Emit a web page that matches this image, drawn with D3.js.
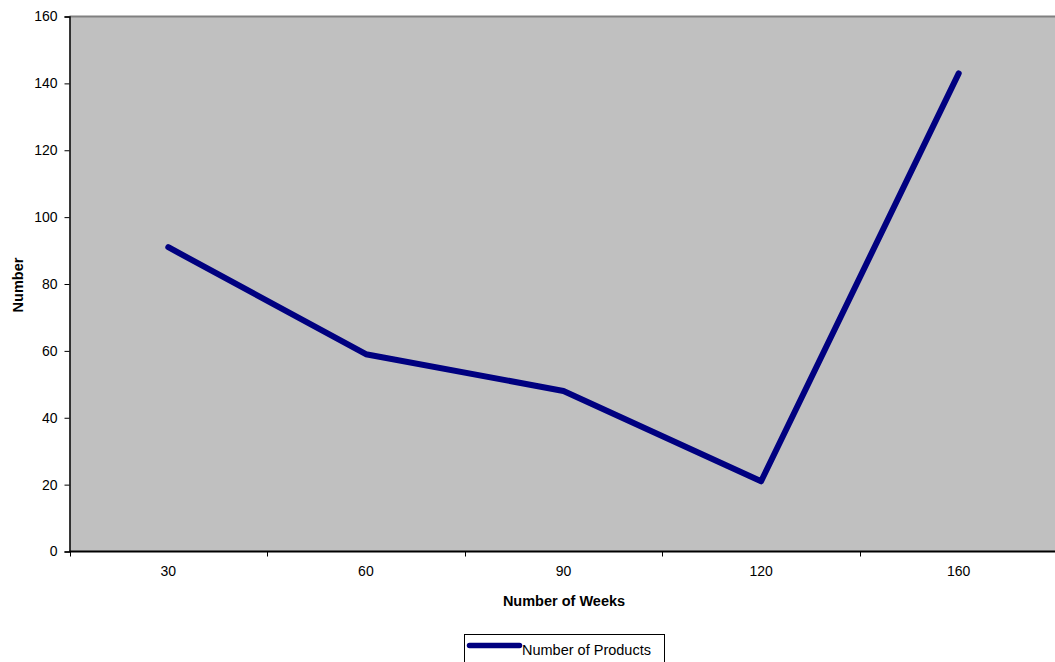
<!DOCTYPE html>
<html>
<head>
<meta charset="utf-8">
<script src="https://cdn.jsdelivr.net/npm/d3@7"></script>
<style>
body{margin:0;background:#fff;}
svg{display:block;font-family:Arial,"Liberation Sans",sans-serif;}
</style>
</head>
<body>
<div class="chart"></div>
<script>
let weeks=['30','60','90','120','160']
let products=[91,59,48,21,143]
let yTicks=[0,20,40,60,80,100,120,140,160]
let seriesName='Number of Products'

let w=1055, h=662
let plotL=69.5, plotT=16.5, plotB=551.5, plotR=1057.5
let font='Arial,"Liberation Sans",sans-serif'

let svg=d3.select('.chart').append('svg').attr('width',w).attr('height',h)

let xScale=d3.scaleBand().domain(weeks).range([plotL,plotR])
let yScale=d3.scaleLinear().domain([0,160]).range([plotB,plotT])

svg.append('rect').attr('x',plotL).attr('y',plotT).attr('width',plotR-plotL).attr('height',plotB-plotT).attr('fill','#c0c0c0')
svg.append('line').attr('x1',plotL).attr('x2',plotR).attr('y1',plotT).attr('y2',plotT).attr('stroke','#808080').attr('stroke-width',2)

let yAxis=d3.axisLeft(yScale).tickValues(yTicks).tickSize(5).tickPadding(7)
let gy=svg.append('g').attr('transform','translate('+plotL+',0)').call(yAxis)
gy.selectAll('text').attr('font-size',14).attr('fill','#000').attr('font-family',font)

// category ticks sit between bands
let xAxis=d3.axisBottom(xScale).tickSize(0).tickPadding(15)
let gx=svg.append('g').attr('transform','translate(0,'+plotB+')').call(xAxis)
gx.selectAll('text').attr('font-size',14).attr('fill','#000').attr('font-family',font)
gx.select('.domain').remove()
let edges=weeks.map(d=>xScale(d)).concat([plotR])
svg.selectAll('.xtick').data(edges).enter().append('line').attr('class','xtick')
  .attr('x1',d=>Math.round(d)+0.5).attr('x2',d=>Math.round(d)+0.5).attr('y1',plotB).attr('y2',plotB+5).attr('stroke','#000')
svg.append('line').attr('x1',plotL).attr('x2',plotR).attr('y1',plotB).attr('y2',plotB).attr('stroke','#000').attr('stroke-width',2)
gy.select('.domain').attr('stroke-width',1.5)

let line=d3.line().x((d,i)=>xScale(weeks[i])+xScale.bandwidth()/2).y(d=>yScale(d))
svg.append('path').datum(products).attr('d',line).attr('fill','none').attr('stroke','#000080')
  .attr('stroke-width',6).attr('stroke-linecap','round').attr('stroke-linejoin','round')

svg.append('text').text('Number of Weeks').attr('x',564).attr('y',605.5).attr('text-anchor','middle')
  .attr('font-size',14.5).attr('font-weight','bold')
svg.append('text').text('Number').attr('transform','translate(23,'+((plotT+plotB)/2+1)+') rotate(-90)')
  .attr('text-anchor','middle').attr('font-size',14.5).attr('font-weight','bold')

let lg=svg.append('g').attr('transform','translate(464.5,634.5)')
lg.append('rect').attr('width',200).attr('height',40).attr('fill','#fff').attr('stroke','#000')
lg.append('line').attr('x1',5).attr('x2',55).attr('y1',11).attr('y2',11).attr('stroke','#000080').attr('stroke-width',5.5).attr('stroke-linecap','round')
lg.append('text').text(seriesName).attr('x',57.5).attr('y',20.5).attr('font-size',14.5)
</script>
</body>
</html>
